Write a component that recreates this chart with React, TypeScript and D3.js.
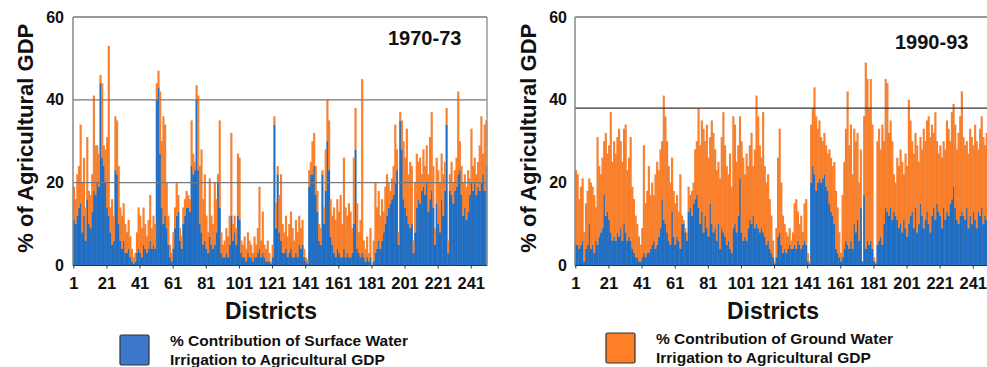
import * as d3 from 'd3';

// District numbers on the x axis
const districts = d3.range(1, 251);
const tickLabels = [1, 21, 41, 61, 81, 101, 121, 141, 161, 181, 201, 221, 241];
const yTicks = [0, 20, 40, 60];

// 1970-73: % contribution to agricultural GDP
const surface70 = [
  11, 10, 12, 14, 15, 8, 12, 6, 16, 10,
  9, 13, 18, 17, 20, 19, 44, 26, 24, 20,
  14, 12, 8, 5, 6, 23, 22, 10, 6, 4,
  6, 3, 3, 4, 2, 1, 0.5, 1, 3, 4,
  3, 2, 5, 4, 3, 4, 6, 4, 5, 4,
  40, 43, 27, 14, 10, 12, 9, 5, 2, 1,
  4, 9, 12, 13, 6, 4, 10, 12, 14, 14,
  13, 24, 22, 23, 40, 23, 10, 8, 5, 6,
  4, 3, 7, 5, 4, 5, 8, 20, 14, 3,
  2, 2, 3, 2, 5, 12, 6, 8, 5, 12,
  11, 3, 2, 2, 1, 3, 2, 2, 1, 2,
  2, 3, 4, 2, 3, 2, 1, 1, 1, 0.5,
  2, 34, 9, 22, 8, 6, 3, 3, 4, 2,
  3, 4, 2, 2, 3, 2, 5, 4, 5, 2,
  1, 0.5, 19, 22, 22, 24, 17, 13, 6, 5,
  22, 10, 18, 30, 23, 7, 5, 3, 2, 4,
  3, 2, 2, 4, 2, 3, 2, 2, 3, 10,
  28, 4, 3, 2, 3, 2, 1, 2, 1, 2,
  0, 1, 3, 4, 6, 4, 6, 8, 10, 12,
  14, 15, 16, 17, 20, 23, 5, 35, 28, 16,
  14, 12, 10, 9, 10, 3, 8, 14, 16, 15,
  18, 19, 17, 20, 13, 16, 18, 14, 5, 15,
  10, 8, 16, 12, 18, 34, 3, 18, 17, 15,
  18, 19, 22, 23, 17, 12, 14, 11, 13, 17,
  20, 18, 20, 17, 19, 18, 20, 22, 18, 24,
];
const ground70 = [
  8, 6, 10, 10, 19, 12, 14, 8, 15, 8,
  8, 9, 23, 12, 9, 8, 2, 18, 5, 8,
  17, 41, 6, 11, 6, 13, 13, 14, 8, 8,
  9, 7, 5, 7, 5, 3, 1.5, 2, 5, 10,
  9, 7, 9, 6, 4, 7, 11, 5, 7, 6,
  4, 4, 15, 16, 26, 22, 11, 7, 3, 2,
  4, 5, 8, 4, 3, 3, 4, 4, 4, 3,
  3, 11, 5, 2, 3.5, 18, 14, 20, 11, 16,
  8, 5, 14, 7, 6, 15, 8, 2, 21, 5,
  3, 4, 6, 5, 7, 20, 4, 4, 4, 15,
  15, 3, 3, 5, 3, 5, 4, 3, 2, 5,
  3, 6, 15, 4, 10, 3, 3, 5, 2, 0.5,
  3, 2, 6, 2, 9, 16, 7, 5, 8, 5,
  7, 9, 7, 4, 8, 6, 7, 5, 6, 2,
  1, 1, 4, 3, 8, 8, 7, 5, 4, 4,
  1, 4, 10, 10, 12, 9, 7, 11, 9, 12,
  10, 15, 8, 22, 12, 9, 13, 11, 6, 16,
  10, 11, 5, 9, 42, 4, 3, 5, 2, 7,
  0.5, 5, 17, 10, 12, 8, 10, 5, 9, 10,
  6, 3, 5, 7, 14, 5, 3, 2, 7, 14,
  12, 21, 12, 16, 14, 3, 12, 13, 9, 11,
  4, 9, 7, 9, 9, 15, 19, 10, 4, 11,
  13, 12, 11, 10, 7, 4, 3, 4, 8, 5,
  5, 7, 20, 7, 7, 8, 8, 8, 10, 4,
  13, 6, 6, 5, 6, 11, 16, 5, 16, 11,
];

// 1990-93
const surface90 = [
  5, 5, 4, 5, 6, 1, 4, 5, 10, 4,
  5, 3, 6, 5, 7, 8, 9, 17, 12, 13,
  11, 8, 6, 7, 6, 8, 7, 9, 6, 10,
  8, 6, 7, 6, 4, 3, 2, 2, 1, 1,
  2, 3, 2, 3, 3, 4, 5, 6, 4, 5,
  7, 9, 16, 11, 10, 8, 6, 5, 13, 7,
  5, 7, 6, 4, 10, 10, 8, 6, 13, 14,
  12, 15, 16, 17, 14, 10, 13, 8, 12, 9,
  7, 15, 10, 8, 9, 6, 10, 4, 9, 8,
  7, 5, 6, 4, 3, 9, 10, 8, 12, 21,
  8, 6, 7, 6, 9, 11, 10, 12, 9, 10,
  9, 8, 9, 8, 7, 5, 6, 4, 3, 2,
  0.5, 2, 7, 8, 5, 3, 4, 3, 4, 5,
  4, 4, 5, 4, 6, 5, 4, 5, 6, 5,
  1, 0.5, 20, 24, 22, 18, 20, 21, 20, 21,
  22, 19, 18, 15, 13, 12, 10, 4, 3, 2,
  1, 2, 4, 6, 5, 4, 6, 4, 10, 8,
  11, 6, 14, 1, 17, 4, 6, 5, 6, 4,
  1, 0.5, 5, 6, 7, 5, 10, 14, 13, 12,
  14, 11, 13, 12, 11, 9, 10, 8, 11, 9,
  7, 10, 12, 13, 9, 14, 8, 10, 15, 12,
  9, 11, 13, 10, 8, 12, 14, 11, 15, 13,
  12, 9, 14, 11, 13, 12, 15, 16, 19, 14,
  11, 10, 12, 13, 12, 11, 14, 9, 12, 10,
  13, 11, 9, 13, 12, 14, 10, 12, 11, 12,
];
const ground90 = [
  18, 17, 12, 14, 15, 7, 11, 13, 11, 16,
  14, 14, 8, 26, 17, 14, 17, 13, 20, 14,
  18, 29, 19, 23, 21, 23, 26, 21, 19, 23,
  26, 17, 19, 25, 15, 13, 10, 8, 6, 4,
  7, 26, 13, 15, 21, 13, 15, 11, 18, 20,
  16, 19, 14, 30, 26, 22, 18, 15, 13, 11,
  10, 10, 7, 18, 2, 1, 1, 2, 6, 3,
  6, 5, 12, 13, 24, 19, 22, 25, 18, 25,
  19, 16, 25, 24, 19, 17, 15, 17, 22, 29,
  22, 19, 16, 23, 16, 27, 24, 17, 17, 15,
  22, 20, 15, 21, 15, 18, 22, 12, 19, 31,
  27, 21, 17, 29, 17, 15, 16, 12, 9, 4,
  0.5, 7, 19, 25, 15, 9, 6, 5, 3, 4,
  2, 4, 10, 12, 7, 5, 8, 3, 9, 11,
  2, 0.5, 14, 14, 21, 18, 13, 14, 11, 9,
  10, 10, 9, 13, 13, 12, 15, 14, 11, 6,
  2, 15, 21, 27, 37, 25, 28, 18, 23, 22,
  21, 14, 14, 0, 19, 45, 39, 33, 39, 30,
  1, 0.5, 25, 27, 21, 29, 20, 31, 31, 20,
  21, 19, 9, 8, 15, 15, 18, 17, 11, 18,
  17, 30, 23, 17, 18, 18, 21, 15, 16, 16,
  24, 19, 22, 26, 23, 22, 18, 26, 15, 14,
  17, 17, 16, 17, 22, 21, 15, 21, 20, 20,
  17, 22, 24, 29, 19, 18, 16, 18, 21, 21,
  16, 23, 21, 15, 21, 22, 21, 17, 21, 18,
];

const BLUE = '#1f6fc6';
const ORANGE = '#ff8029';
const FONT = "'Liberation Sans', Arial, Helvetica, sans-serif";

const PLOT_W = 414;
const TOP = 17;
const BOTTOM = 265.5;

interface PanelProps {
  x0: number;
  surface: number[];
  ground: number[];
  period: string;
  periodX: number;
  periodY: number;
  refLines: number[];
  refColor: string;
  labelRight: number;
  titleX: number;
}

function Panel({ x0, surface, ground, period, periodX, periodY, refLines, refColor, labelRight, titleX }: PanelProps) {
  const x = d3.scaleBand<number>().domain(districts).range([x0, x0 + PLOT_W]);
  const y = d3.scaleLinear().domain([0, 60]).range([BOTTOM, TOP]);
  const bw = x.bandwidth();

  const stack = d3.stack<number>()
    .keys(['surface', 'ground'])
    .value((i, key) => (key === 'surface' ? surface[i] : ground[i]));
  const series = stack(d3.range(districts.length));
  const colors = [BLUE, ORANGE];

  return (
    <g>
      {series.map((s, k) => (
        <g key={k} fill={colors[k]} stroke="rgba(80,80,80,0.25)" strokeWidth={0.2}>
          {s.map((d, i) => (
            <rect
              key={i}
              x={x(districts[i])}
              width={bw + 0.4}
              y={y(d[1])}
              height={Math.max(0, y(d[0]) - y(d[1]))}
            />
          ))}
        </g>
      ))}

      {/* grid / reference lines */}
      {refLines.map((v) => (
        <line key={v} x1={x0} x2={x0 + PLOT_W} y1={y(v)} y2={y(v)} stroke={refColor} strokeWidth={1.4} />
      ))}

      {/* frame */}
      <line x1={x0} x2={x0 + PLOT_W} y1={y(60)} y2={y(60)} stroke="#999" strokeWidth={2} />
      <line x1={x0 + PLOT_W} x2={x0 + PLOT_W} y1={y(60)} y2={BOTTOM} stroke="#999" strokeWidth={1.5} />
      <line x1={x0} x2={x0} y1={y(60)} y2={BOTTOM} stroke="#888" strokeWidth={1.5} />
      <line x1={x0} x2={x0 + PLOT_W} y1={BOTTOM} y2={BOTTOM} stroke="#333" strokeWidth={1.2} />

      {/* x ticks */}
      {tickLabels.map((t) => {
        const cx = (x(t) ?? 0) + bw / 2;
        return (
          <g key={t}>
            <line x1={cx} x2={cx} y1={BOTTOM} y2={BOTTOM + 3} stroke="#333" strokeWidth={1} />
            <text x={cx} y={289} textAnchor="middle" fontSize={16.5} fontWeight="bold" fill="#111">
              {t}
            </text>
          </g>
        );
      })}

      {/* y ticks */}
      {yTicks.map((t) => (
        <text key={t} x={labelRight} y={y(t)} dy="0.35em" textAnchor="end" fontSize={16} fontWeight="bold" fill="#111">
          {t}
        </text>
      ))}

      <text
        transform={`translate(${titleX},${(TOP + BOTTOM) / 2 - 3}) rotate(-90)`}
        textAnchor="middle"
        dy="0.35em"
        fontSize={22}
        fontWeight="bold"
        fill="#111"
      >
        % of Agricultural GDP
      </text>

      <text x={x0 + PLOT_W / 2 - 9} y={319} textAnchor="middle" fontSize={23} fontWeight="bold" fill="#111">
        Districts
      </text>

      <text x={periodX} y={periodY} fontSize={20} fontWeight="bold" fill="#111">
        {period}
      </text>
    </g>
  );
}

function Legend({ x, y, color, lines }: { x: number; y: number; color: string; lines: string[] }) {
  return (
    <g>
      <rect x={x} y={y} width={29} height={30} fill={color} stroke="#333" strokeWidth={1.2} rx={1.5} />
      {lines.map((l, i) => (
        <text key={i} x={x + 50} y={y + 11 + i * 18.5} fontSize={15.5} fontWeight="bold" fill="#111">
          {l}
        </text>
      ))}
    </g>
  );
}

export default function App() {
  return (
    <svg
      width={987}
      height={367}
      style={{ position: 'absolute', left: 0, top: 0, display: 'block' }}
      fontFamily={FONT}
    >
      <rect width={987} height={367} fill="#fff" />
      <Panel
        x0={73}
        surface={surface70}
        ground={ground70}
        period="1970-73"
        periodX={388}
        periodY={45}
        refLines={[20, 40]}
        refColor="#777"
        labelRight={64}
        titleX={25}
      />
      <Panel
        x0={575}
        surface={surface90}
        ground={ground90}
        period="1990-93"
        periodX={895}
        periodY={49}
        refLines={[38]}
        refColor="#333"
        labelRight={567}
        titleX={528}
      />
      <Legend
        x={120}
        y={335}
        color="#3d78cc"
        lines={['% Contribution of Surface Water', 'Irrigation to Agricultural GDP']}
      />
      <Legend
        x={606}
        y={333}
        color="#ff7f27"
        lines={['% Contribution of Ground Water', 'Irrigation to Agricultural GDP']}
      />
    </svg>
  );
}
